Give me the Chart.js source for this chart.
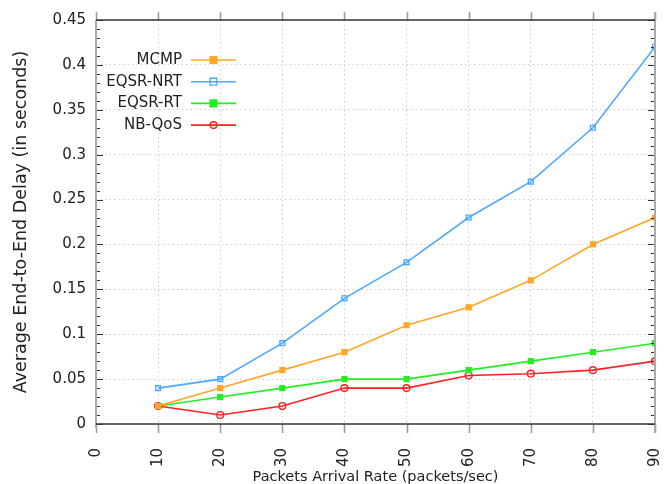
<!DOCTYPE html>
<html>
<head>
<meta charset="utf-8">
<script src="https://cdn.jsdelivr.net/npm/chart.js@4.4.0/dist/chart.umd.js"></script>
<style>
  html, body { margin: 0; padding: 0; background: #fff; }
  #wrap { width: 671px; height: 484px; }
</style>
</head>
<body>
<div id="wrap"><canvas id="chart"></canvas></div>
<script>
// dati
const rates = [10, 20, 30, 40, 50, 60, 70, 80, 90];
const mcmp = [0.02, 0.04, 0.06, 0.08, 0.11, 0.13, 0.16, 0.20, 0.23];
const eqsrNrt = [0.04, 0.05, 0.09, 0.14, 0.18, 0.23, 0.27, 0.33, 0.42];
const eqsrRt = [0.02, 0.03, 0.04, 0.05, 0.05, 0.06, 0.07, 0.08, 0.09];
const nbQos = [0.02, 0.01, 0.02, 0.04, 0.04, 0.054, 0.056, 0.06, 0.07];
const seriesNames = ['MCMP', 'EQSR-NRT', 'EQSR-RT', 'NB-QoS'];
const xTicks = [0, 10, 20, 30, 40, 50, 60, 70, 80, 90];
const yTicks = [0, 0.05, 0.1, 0.15, 0.2, 0.25, 0.3, 0.35, 0.4, 0.45];

const FONT = 'DejaVu Sans';
const toPoints = vals => rates.map((r, i) => ({ x: r, y: vals[i] }));

function makeSet(label, vals, color, style, filled) {
    return {
        label: label,
        data: toPoints(vals),
        borderColor: color,
        backgroundColor: filled ? color : '#ffffff',
        borderWidth: 1.6,
        pointStyle: style,
        pointRadius: 3.4,
        pointBorderWidth: 1.4,
        pointBackgroundColor: filled ? color : 'rgba(255,255,255,0)',
        pointBorderColor: color,
        tension: 0
    };
}

const datasets = [
    makeSet(seriesNames[0], mcmp, '#ffa628', 'rect', true),
    makeSet(seriesNames[1], eqsrNrt, '#4fa8ff', 'rect', false),
    makeSet(seriesNames[2], eqsrRt, '#22ee22', 'rect', true),
    makeSet(seriesNames[3], nbQos, '#ff2222', 'circle', false)
];

// bordi, tacche e legenda in stile gnuplot
const framePlugin = {
    id: 'frame',
    afterDatasetsDraw(chart) {
        const { ctx, chartArea: a, scales } = chart;
        ctx.save();
        // tacche minori asse y (ogni 0.01)
        ctx.strokeStyle = '#333';
        ctx.lineWidth = 1.2;
        for (let k = 0; k <= 45; k++) {
            const y = Math.round(scales.y.getPixelForValue(k / 100)) + 0.5;
            const len = k % 5 === 0 ? 7 : 4;
            ctx.beginPath();
            ctx.moveTo(a.left, y); ctx.lineTo(a.left + len, y);
            ctx.moveTo(a.right, y); ctx.lineTo(a.right - len, y);
            ctx.stroke();
        }
        // tacche asse x (sopra e sotto, verso l'esterno)
        ctx.strokeStyle = '#999';
        ctx.lineWidth = 1.5;
        xTicks.forEach(v => {
            const x = Math.round(scales.x.getPixelForValue(v)) + 0.5;
            ctx.beginPath();
            ctx.moveTo(x, a.top); ctx.lineTo(x, a.top - 8);
            ctx.moveTo(x, a.bottom); ctx.lineTo(x, a.bottom + 9);
            ctx.stroke();
        });
        // bordi
        ctx.strokeStyle = '#aaa';
        ctx.lineWidth = 2;
        ctx.beginPath();
        ctx.moveTo(a.left, a.top); ctx.lineTo(a.left, a.bottom + 4);
        ctx.moveTo(a.right, a.top - 8); ctx.lineTo(a.right, a.bottom + 9);
        ctx.stroke();
        ctx.strokeStyle = '#333';
        ctx.lineWidth = 1.5;
        ctx.beginPath();
        ctx.moveTo(a.left, a.top); ctx.lineTo(a.right, a.top);
        ctx.moveTo(a.left, a.bottom); ctx.lineTo(a.right, a.bottom);
        ctx.stroke();

        // legenda: testo allineato a destra, poi linea con marcatore
        const textX = 182, x0 = 191, x1 = 236, y0 = 60, dy = 21.7;
        ctx.font = '15px "' + FONT + '"';
        ctx.textAlign = 'right';
        ctx.textBaseline = 'middle';
        chart.data.datasets.forEach((ds, i) => {
            const y = y0 + i * dy;
            const cx = (x0 + x1) / 2;
            ctx.fillStyle = '#222';
            ctx.fillText(ds.label, textX, y);
            ctx.strokeStyle = ds.borderColor;
            ctx.lineWidth = 1.6;
            ctx.beginPath();
            ctx.moveTo(x0, y); ctx.lineTo(x1, y);
            ctx.stroke();
            ctx.fillStyle = ds.pointBackgroundColor;
            ctx.strokeStyle = ds.pointBorderColor;
            ctx.lineWidth = ds.pointBorderWidth;
            ctx.beginPath();
            const r = ds.pointRadius;
            if (ds.pointStyle === 'circle') {
                ctx.arc(cx, y, r, 0, Math.PI * 2);
            } else {
                ctx.rect(cx - r, y - r, 2 * r, 2 * r);
            }
            ctx.fill();
            ctx.stroke();
        });
        ctx.restore();
    }
};

const gridColor = ctx => {
    const v = ctx.tick ? ctx.tick.value : 0;
    return (v <= 0 || Math.abs(v - ctx.scale.max) < 1e-9) ? 'rgba(0,0,0,0)' : '#cfcfcf';
};

new Chart(document.getElementById('chart'), {
    type: 'line',
    data: { datasets: datasets },
    options: {
        responsive: true,
        maintainAspectRatio: false,
        animation: false,
        layout: { padding: { top: 20, right: 16, left: 0, bottom: 0 } },
        plugins: {
            legend: { display: false },
            tooltip: { enabled: false }
        },
        scales: {
            x: {
                type: 'linear',
                min: 0,
                max: 90,
                afterBuildTicks: s => { s.ticks = xTicks.map(v => ({ value: v })); },
                afterFit: s => { s.height = 60; s.paddingLeft = 0; s.paddingRight = 0; },
                grid: { color: gridColor, lineWidth: 1, drawTicks: false },
                border: { display: false, dash: [1.5, 3] },
                ticks: {
                    font: { family: FONT, size: 15 },
                    color: '#222',
                    padding: 24,
                    minRotation: 90,
                    maxRotation: 90,
                    callback: v => String(v)
                },
                title: {
                    display: true,
                    text: 'Packets Arrival Rate (packets/sec)',
                    font: { family: FONT, size: 14.5, lineHeight: 1.0 },
                    color: '#222',
                    padding: { top: 0, bottom: 0 }
                }
            },
            y: {
                min: 0,
                max: 0.45,
                afterBuildTicks: s => { s.ticks = yTicks.map(v => ({ value: v })); },
                afterFit: s => { s.width = 96; s.paddingTop = 0; s.paddingBottom = 0; },
                grid: { color: gridColor, lineWidth: 1, drawTicks: false },
                border: { display: false, dash: [1.5, 3] },
                ticks: {
                    font: { family: FONT, size: 15 },
                    color: '#222',
                    padding: 10,
                    callback: v => String(Number(v.toFixed(2)))
                },
                title: {
                    display: true,
                    text: 'Average End-to-End Delay (in seconds)',
                    font: { family: FONT, size: 17.5 },
                    color: '#222',
                    padding: { top: 11, bottom: 0 }
                }
            }
        }
    },
    plugins: [framePlugin]
});
</script>
</body>
</html>
